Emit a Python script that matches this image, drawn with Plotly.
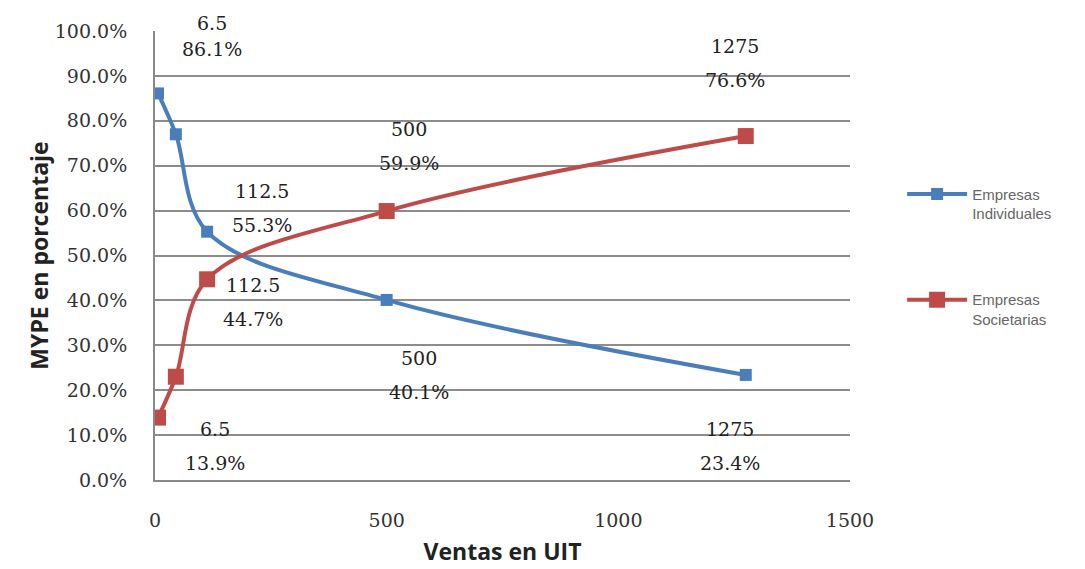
import plotly.graph_objects as go

ventas = [6.5, 45, 112.5, 500, 1275]
individuales = [86.1, 77.0, 55.3, 40.1, 23.4]
societarias = [13.9, 23.0, 44.7, 59.9, 76.6]
labeled = [0, 2, 3, 4]
x_ticks = [0, 500, 1000, 1500]
y_ticks = [0, 10, 20, 30, 40, 50, 60, 70, 80, 90, 100]
y_ticktext = [f"{v:.1f}%" for v in y_ticks]

blue = "#4A7EBB"
red = "#BE4B48"

fig = go.Figure()
fig.add_trace(go.Scatter(x=ventas, y=individuales, mode="lines+markers",
                         name="Empresas<br>Individuales", line=dict(color=blue, width=4, shape="spline"),
                         marker=dict(symbol="square", size=12, color=blue), legend="legend"))
fig.add_trace(go.Scatter(x=ventas, y=societarias, mode="lines+markers",
                         name="Empresas<br>Societarias", line=dict(color=red, width=4, shape="spline"),
                         marker=dict(symbol="square", size=16, color=red), legend="legend2"))

# label offsets (px) per labeled point: (dx, shift of value line, shift of percent line)
blue_off = {0: (54, 70, 44), 2: (55, 41, 7), 3: (32, -58, -92), 4: (-16, -54, -88)}
red_off = {0: (57, -11, -45), 2: (46, -6, -40), 3: (22, 82, 48), 4: (-11, 90, 56)}
lab_font = dict(family="DejaVu Serif", size=19, color="#222")
for series, offs in ((individuales, blue_off), (societarias, red_off)):
    for i in labeled:
        dx, dy1, dy2 = offs[i]
        for txt, dy in ((f"{ventas[i]:g}", dy1), (f"{series[i]:.1f}%", dy2)):
            fig.add_annotation(x=ventas[i], y=series[i], text=txt, showarrow=False,
                               xshift=dx, yshift=dy, font=lab_font)

leg_font = dict(family="Liberation Sans", size=15, color="#666")
fig.update_layout(
    width=1085, height=569,
    margin=dict(l=147, r=243, t=20, b=97),
    paper_bgcolor="white", plot_bgcolor="white",
    showlegend=True,
    legend=dict(x=1.075, y=0.615, xanchor="left", yanchor="middle", valign="top", itemwidth=60,
                font=leg_font, bgcolor="rgba(0,0,0,0)"),
    legend2=dict(x=1.075, y=0.38, xanchor="left", yanchor="middle", valign="top", itemwidth=60,
                 font=leg_font, bgcolor="rgba(0,0,0,0)"),
    xaxis=dict(range=[0, 1500], tickvals=x_ticks, showgrid=False, zeroline=False,
               showline=True, linecolor="#888", linewidth=2,
               tickfont=dict(family="DejaVu Serif", size=19, color="#333"),
               ticklabelstandoff=22,
               title=dict(text="<b>Ventas en UIT</b>", font=dict(family="Open Sans", size=23, color="#222"), standoff=14)),
    yaxis=dict(range=[0, 100], tickvals=y_ticks, ticktext=y_ticktext,
               showgrid=True, gridcolor="#8c8c8c", gridwidth=1.5, zeroline=False,
               showline=True, linecolor="#888", linewidth=2,
               tickfont=dict(family="DejaVu Serif", size=19, color="#333"),
               ticklabelstandoff=22,
               title=dict(text="<b>MYPE en porcentaje</b>", font=dict(family="Open Sans", size=23, color="#222"), standoff=0)),
)

fig.write_html("out.html")
